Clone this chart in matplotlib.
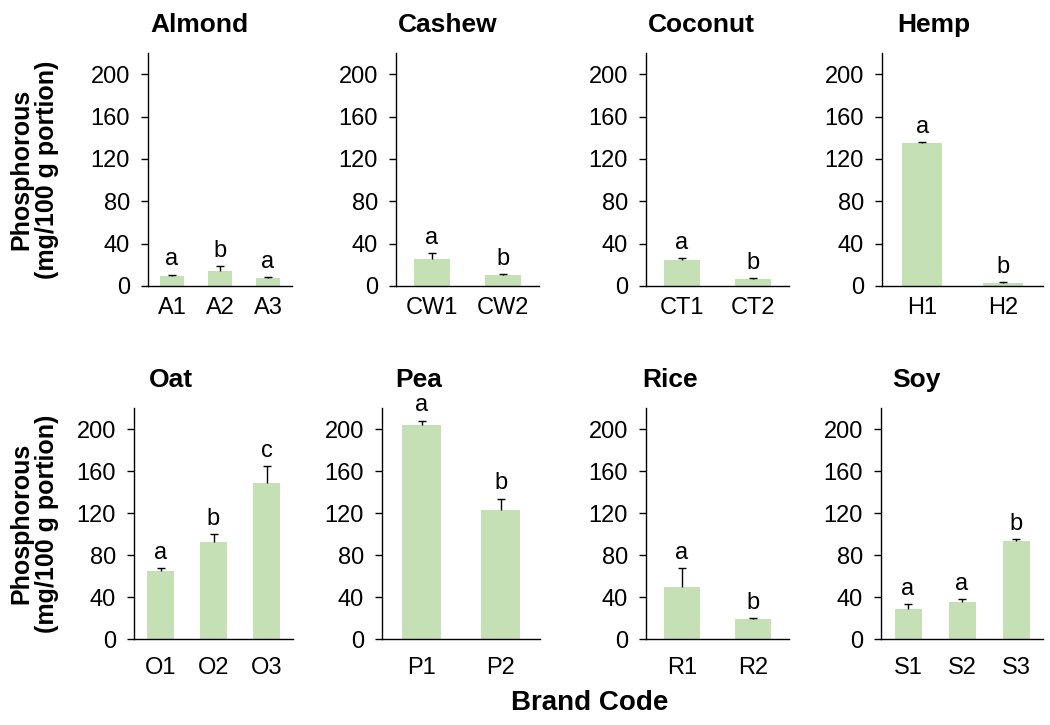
"""
Phosphorous content of plant-based milk brands, one small bar panel per
milk type, letters mark significant differences within a panel.
"""

import matplotlib
matplotlib.use("Agg")
import matplotlib.pyplot as plt

# data (mg/100 g portion)
milk_types = ["Almond", "Cashew", "Coconut", "Hemp",
              "Oat", "Pea", "Rice", "Soy"]
brand_codes = [["A1", "A2", "A3"], ["CW1", "CW2"], ["CT1", "CT2"],
               ["H1", "H2"], ["O1", "O2", "O3"], ["P1", "P2"],
               ["R1", "R2"], ["S1", "S2", "S3"]]
means = [[9.5, 14.2, 7.9], [25.5, 10.0], [24.5, 6.3], [134.6, 3.1],
         [64.8, 92.4, 148.3], [204.0, 123.2], [50.0, 19.0],
         [28.9, 34.9, 93.6]]
errors = [[1.3, 4.8, 0.9], [5.3, 1.3], [1.5, 0.9], [1.0, 0.9],
          [2.5, 7.3, 16.5], [4.0, 10.5], [17.6, 1.0], [4.4, 3.5, 1.6]]
letters = [["a", "b", "a"], ["a", "b"], ["a", "b"], ["a", "b"],
           ["a", "b", "c"], ["a", "b"], ["a", "b"], ["a", "a", "b"]]
y_ticks = [0, 40, 80, 120, 160, 200]

# layout in pixels of the 1050x725 picture: (left, right, top, bottom)
W, H = 1050, 725
boxes = [(148, 292, 53, 286), (396, 539, 53, 286),
         (646, 789, 53, 286), (882, 1043, 53, 286),
         (134, 293, 408, 639), (382, 540, 408, 639),
         (646, 789, 408, 639), (881, 1043, 408, 639)]
# title centre as a fraction of each panel width
title_x = [0.36, 0.36, 0.39, 0.32, 0.23, 0.23, 0.17, 0.22]

plt.rcParams['font.family'] = ['Liberation Sans', 'DejaVu Sans']
BAR_COLOR = "#C5E0B4"

fig = plt.figure(figsize=(W / 100, H / 100), dpi=100)

for i, name in enumerate(milk_types):
    left, right, top, bottom = boxes[i]
    ax = fig.add_axes([left / W, 1 - bottom / H,
                       (right - left) / W, (bottom - top) / H])
    x = list(range(len(brand_codes[i])))
    ax.bar(x, means[i], width=0.5, color=BAR_COLOR, zorder=2)
    # only the upper half of each error bar is shown
    _, caps, _ = ax.errorbar(x, means[i], yerr=[[0] * len(x), errors[i]],
                             fmt="none", ecolor="black", elinewidth=1,
                             capsize=3, capthick=1, zorder=3)
    caps[0].set_visible(False)  # lower cap
    for xi, m, e, lab in zip(x, means[i], errors[i], letters[i]):
        ax.annotate(lab, (xi, m + e), xytext=(0, 3),
                    textcoords="offset points", ha="center", va="bottom",
                    fontsize=17)

    ax.set_xlim(-0.5, len(x) - 0.5)
    ax.set_ylim(0, 220)
    ax.set_yticks(y_ticks)
    ax.set_xticks(x)
    ax.set_xticklabels(brand_codes[i])
    ax.spines["top"].set_visible(False)
    ax.spines["right"].set_visible(False)
    ax.spines["left"].set_linewidth(1)
    ax.spines["bottom"].set_linewidth(1)
    ax.tick_params(axis="y", direction="out", length=5, width=1,
                   pad=8, labelsize=17)
    ax.tick_params(axis="x", length=0, labelsize=17,
                   pad=8 if i < 4 else 13)
    ax.set_title(name, fontsize=19, fontweight="bold", x=title_x[i],
                 pad=15)

# shared y labels, one per row
for top, bottom in [(53, 286), (408, 639)]:
    fig.text(34 / W, 1 - (top + bottom) / 2 / H,
             "Phosphorous\n(mg/100 g portion)", rotation=90, ha="center",
             va="center", fontsize=18, fontweight="bold",
             multialignment="center", linespacing=1.1)

fig.text(590 / W, 1 - 703 / H, "Brand Code", ha="center", va="center",
         fontsize=20, fontweight="bold")

fig.savefig("out.png", dpi=100)
